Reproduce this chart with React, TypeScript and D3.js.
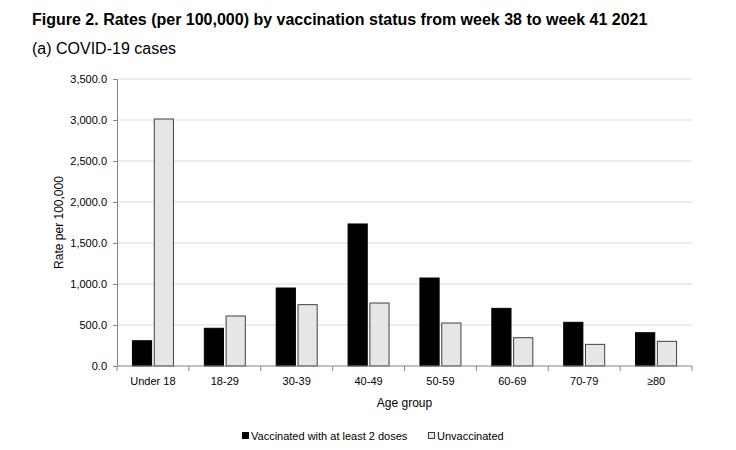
import { useEffect, useRef } from 'react';
import * as d3 from 'd3';

const ageGroups = ['Under 18', '18-29', '30-39', '40-49', '50-59', '60-69', '70-79', '≥80'];
const vaccinated = [308, 460, 951, 1732, 1073, 703, 533, 406];
const unvaccinated = [3012, 610, 748, 768, 524, 345, 264, 301];
const seriesNames = ['Vaccinated with at least 2 doses', 'Unvaccinated'];
const yTicks = [0, 500, 1000, 1500, 2000, 2500, 3000, 3500];

export default function App() {
  const ref = useRef<SVGSVGElement | null>(null);

  useEffect(() => {
    const svg = d3.select(ref.current);
    svg.selectAll('*').remove();

    const font = '"Liberation Sans", Arial, sans-serif';
    const left = 117, right = 692, top = 79, bottom = 366;

    const x = d3.scaleBand().domain(ageGroups).range([left, right]);
    const inner = d3.scaleBand().domain(seriesNames).range([-20.5, 20.5]).paddingInner(0.12);
    const y = d3.scaleLinear().domain([0, 3500]).range([bottom, top]);

    svg.append('rect').attr('width', 736).attr('height', 450).attr('fill', '#fff');

    svg.append('text')
      .attr('x', 32).attr('y', 24.5)
      .attr('font-family', font).attr('font-weight', 'bold').attr('font-size', 16)
      .text('Figure 2. Rates (per 100,000) by vaccination status from week 38 to week 41 2021');

    svg.append('text')
      .attr('x', 32).attr('y', 53.5)
      .attr('font-family', font).attr('font-size', 16)
      .text('(a) COVID-19 cases');

    // gridlines
    svg.append('g').selectAll('line')
      .data(yTicks.filter(d => d > 0))
      .enter().append('line')
      .attr('x1', left).attr('x2', right)
      .attr('y1', d => y(d)).attr('y2', d => y(d))
      .attr('stroke', '#d9d9d9').attr('stroke-width', 1);

    // y axis
    const yAxis = svg.append('g')
      .attr('transform', `translate(${left},0)`)
      .call(d3.axisLeft(y).tickValues(yTicks).tickSize(4).tickPadding(6).tickFormat(d => d3.format(',.1f')(d as number)));
    yAxis.select('.domain').attr('stroke', '#868686');
    yAxis.selectAll('.tick line').attr('stroke', '#868686');
    yAxis.selectAll('text').attr('font-family', font).attr('font-size', 11).attr('fill', '#000');

    // bars
    const groups = svg.append('g').selectAll('g')
      .data(ageGroups)
      .enter().append('g')
      .attr('transform', d => `translate(${x(d)! + x.bandwidth() / 2},0)`);

    groups.append('rect')
      .attr('x', inner(seriesNames[0])!)
      .attr('width', inner.bandwidth())
      .attr('y', (_, i) => y(vaccinated[i]))
      .attr('height', (_, i) => bottom - y(vaccinated[i]))
      .attr('fill', '#000').attr('stroke', '#000').attr('stroke-width', 1);

    groups.append('rect')
      .attr('x', inner(seriesNames[1])!)
      .attr('width', inner.bandwidth())
      .attr('y', (_, i) => y(unvaccinated[i]))
      .attr('height', (_, i) => bottom - y(unvaccinated[i]))
      .attr('fill', '#e6e6e6').attr('stroke', '#404040').attr('stroke-width', 1);

    // x axis
    svg.append('line')
      .attr('x1', left).attr('x2', right).attr('y1', bottom).attr('y2', bottom)
      .attr('stroke', '#868686');
    svg.append('g').selectAll('line')
      .data(d3.range(ageGroups.length + 1))
      .enter().append('line')
      .attr('x1', i => left + i * x.step()).attr('x2', i => left + i * x.step())
      .attr('y1', bottom).attr('y2', bottom + 5)
      .attr('stroke', '#868686');
    svg.append('g').selectAll('text')
      .data(ageGroups)
      .enter().append('text')
      .attr('x', d => x(d)! + x.bandwidth() / 2)
      .attr('y', 385)
      .attr('text-anchor', 'middle')
      .attr('font-family', font).attr('font-size', 11)
      .text(d => d);

    svg.append('text')
      .attr('x', (left + right) / 2).attr('y', 407)
      .attr('text-anchor', 'middle')
      .attr('font-family', font).attr('font-size', 12)
      .text('Age group');

    svg.append('text')
      .attr('transform', `translate(63,${(top + bottom) / 2}) rotate(-90)`)
      .attr('text-anchor', 'middle')
      .attr('font-family', font).attr('font-size', 12)
      .text('Rate per 100,000');

    // legend
    const legendX = [242, 428];
    const legend = svg.append('g').selectAll('g')
      .data(seriesNames)
      .enter().append('g')
      .attr('transform', (_, i) => `translate(${legendX[i]},440)`);
    legend.append('rect')
      .attr('x', 0.5).attr('y', -7.5).attr('width', 6).attr('height', 6)
      .attr('fill', (_, i) => (i === 0 ? '#000' : '#e6e6e6'))
      .attr('stroke', (_, i) => (i === 0 ? '#000' : '#404040'));
    legend.append('text')
      .attr('x', 9).attr('y', 0)
      .attr('font-family', font).attr('font-size', 11)
      .text(d => d);
  }, []);

  return <svg ref={ref} width={736} height={450} style={{ position: 'absolute', left: 0, top: 0 }} />;
}
